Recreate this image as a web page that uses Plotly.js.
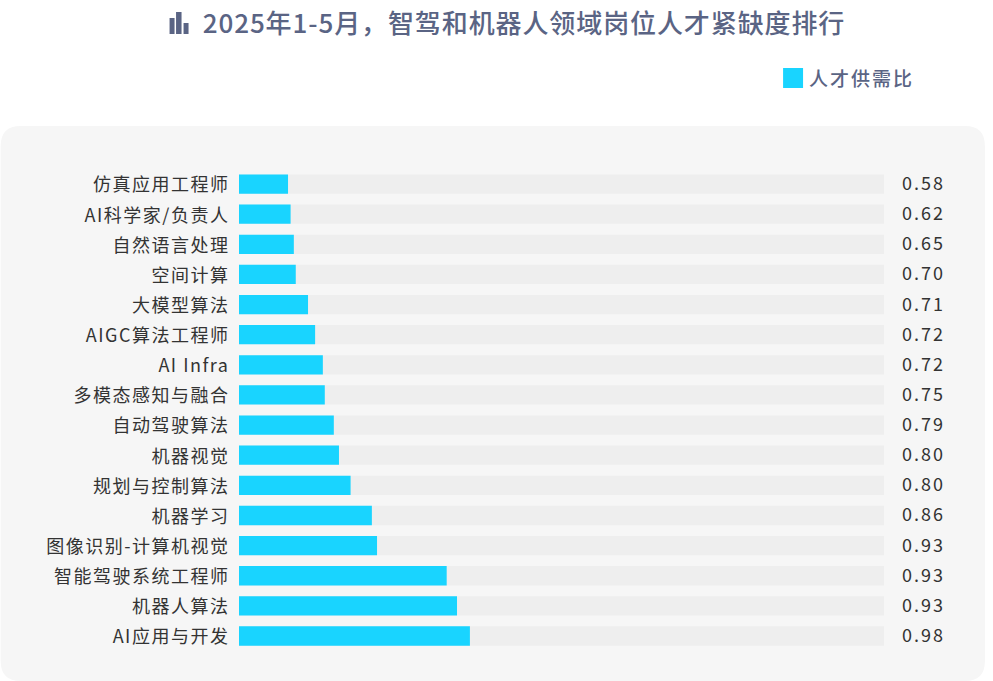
<!DOCTYPE html>
<html>
<head>
<meta charset="utf-8">
<script src="https://cdn.plot.ly/plotly-3.0.1.min.js"></script>
<style>
html,body{margin:0;padding:0;background:#fff}
#chart{width:993px;height:681px}
.ytick{transform:translateY(1px)}
.ytick text{letter-spacing:1.5px}
.annotation-text{letter-spacing:2px}
.gtitle{letter-spacing:0.9px}
</style>
</head>
<body>
<div id="chart"></div>
<script>
const categories = ["仿真应用工程师","AI科学家/负责人","自然语言处理","空间计算","大模型算法","AIGC算法工程师","AI Infra","多模态感知与融合","自动驾驶算法","机器视觉","规划与控制算法","机器学习","图像识别-计算机视觉","智能驾驶系统工程师","机器人算法","AI应用与开发"];
const valueLabels = ["0.58","0.62","0.65","0.70","0.71","0.72","0.72","0.75","0.79","0.80","0.80","0.86","0.93","0.93","0.93","0.98"];
const barLengths = [7.6,8.0,8.5,8.8,10.7,11.8,13.0,13.3,14.7,15.5,17.3,20.6,21.4,32.2,33.8,35.8];
const trackLengths = categories.map(() => 100);
const seriesName = "人才供需比";
const titleText = "2025年1-5月，智驾和机器人领域岗位人才紧缺度排行";

const W = 993, H = 681;
const M = {l:238.5, r:109, t:169, b:28};
const px = v => (v - M.l) / (W - M.l - M.r);
const py = v => 1 - (v - M.t) / (H - M.t - M.b);
const cardPath = [["M",20,126],["L",965,126],["Q",985,126,985,146],["L",985,661],["Q",985,681,965,681],["L",20,681],["Q",0,681,0,661],["L",0,146],["Q",0,126,20,126]]
  .map(s => s[0] + s.slice(1).map((v,i) => i % 2 ? py(v) : px(v)).join(",")).join(" ") + " Z";

const titleColor = "#5a6484";
const CJK = '"Noto Sans CJK SC","Noto Sans",sans-serif';

const traces = [
  {type:"bar",orientation:"h",y:categories,x:trackLengths,marker:{color:"#eeeeee"},showlegend:false,hoverinfo:"skip"},
  {type:"bar",orientation:"h",y:categories,x:barLengths,name:seriesName,marker:{color:"#19d4ff"},showlegend:false}
];

const iconBars = [[169,174,16],[175.5,181,22],[183,188,11]];
const shapes = [
  {type:"path",path:cardPath,xref:"paper",yref:"paper",fillcolor:"#f6f6f6",line:{width:0},layer:"below"},
  {type:"rect",xref:"paper",yref:"paper",x0:px(783),x1:px(803),y0:py(68),y1:py(88),fillcolor:"#19d4ff",line:{width:0}}
].concat(iconBars.map(b=>({type:"rect",xref:"paper",yref:"paper",x0:px(b[0]),x1:px(b[1]),y0:py(34),y1:py(34-b[2]),fillcolor:titleColor,line:{width:0}})));

const annotations = categories.map((c,i)=>({
  x:100,y:c,xref:"x",yref:"y",text:valueLabels[i],showarrow:false,xanchor:"left",xshift:16,yshift:2,
  font:{family:CJK,size:18,color:"#333333"}
}));
annotations.push({xref:"paper",yref:"paper",x:px(807),y:py(78),xanchor:"left",yanchor:"middle",showarrow:false,text:seriesName,
  font:{family:CJK,size:19,weight:500,color:titleColor}});

const layout = {
  width:W,height:H,
  paper_bgcolor:"rgba(0,0,0,0)",plot_bgcolor:"rgba(0,0,0,0)",
  margin:{l:M.l,r:M.r,t:M.t,b:M.b,pad:0},
  barmode:"overlay",bargap:0.36,showlegend:false,
  title:{text:titleText,x:524/W,xanchor:"center",y:1-24/H,yanchor:"middle",font:{family:CJK,size:26,weight:500,color:titleColor}},
  xaxis:{range:[0,100],showgrid:false,zeroline:false,showline:false,showticklabels:false,ticks:"",fixedrange:true},
  yaxis:{type:"category",categoryorder:"array",categoryarray:categories,autorange:"reversed",showgrid:false,zeroline:false,showline:false,ticks:"outside",ticklen:5,tickcolor:"rgba(0,0,0,0)",
    tickfont:{family:CJK,size:18,color:"#333333"},automargin:false,fixedrange:true},
  shapes,annotations
};
Plotly.newPlot("chart",traces,layout,{displayModeBar:false,responsive:false});
</script>
</body>
</html>
